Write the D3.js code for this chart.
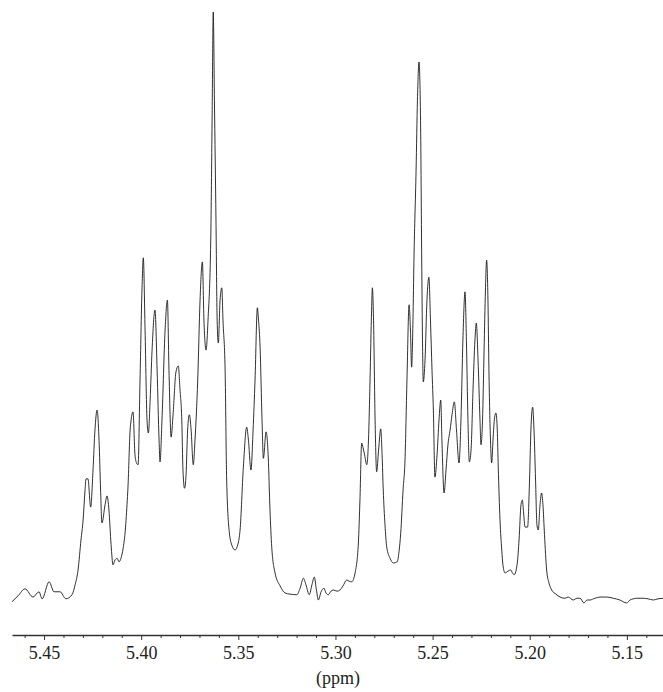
<!DOCTYPE html>
<html>
<head>
<meta charset="utf-8">
<script src="https://cdn.jsdelivr.net/npm/d3@7"></script>
<style>
  html, body { margin: 0; padding: 0; background: #fff; }
  svg { display: block; }
  svg text { font-family: "Liberation Serif", "Times New Roman", Times, serif; }
</style>
</head>
<body>
<svg id="chart" width="663" height="692"></svg>
<script>
// Chemical shift (ppm) of traced spectrum points
const ppm = [
  5.4665, 5.4634, 5.4598, 5.4557, 5.4526, 5.4510, 5.4474, 5.4449, 5.4418, 5.4387,
  5.4356, 5.4340, 5.4325, 5.4310, 5.4299, 5.4289, 5.4284, 5.4274, 5.4260, 5.4248,
  5.4238, 5.4227, 5.4217, 5.4209, 5.4202, 5.4186, 5.4176, 5.4166, 5.4155, 5.4145,
  5.4135, 5.4124, 5.4114, 5.4104, 5.4093, 5.4083, 5.4073, 5.4068, 5.4057, 5.4052,
  5.4042, 5.4032, 5.4024, 5.4016, 5.4006, 5.3996, 5.3989, 5.3980, 5.3970, 5.3963,
  5.3954, 5.3944, 5.3929, 5.3918, 5.3908, 5.3903, 5.3893, 5.3877, 5.3865, 5.3857,
  5.3846, 5.3836, 5.3821, 5.3809, 5.3800, 5.3791, 5.3785, 5.3777, 5.3769, 5.3761,
  5.3752, 5.3743, 5.3732, 5.3723, 5.3709, 5.3697, 5.3685, 5.3677, 5.3666, 5.3656,
  5.3642, 5.3635, 5.3629, 5.3623, 5.3615, 5.3609, 5.3603, 5.3594, 5.3585, 5.3579,
  5.3568, 5.3560, 5.3546, 5.3532, 5.3517, 5.3502, 5.3491, 5.3474, 5.3457, 5.3448,
  5.3435, 5.3424, 5.3414, 5.3402, 5.3396, 5.3388, 5.3378, 5.3371, 5.3357, 5.3346,
  5.3337, 5.3328, 5.3311, 5.3285, 5.3260, 5.3234, 5.3199, 5.3182, 5.3165, 5.3152,
  5.3135, 5.3121, 5.3109, 5.3098, 5.3088, 5.3074, 5.3059, 5.3049, 5.3037, 5.3023,
  5.3011, 5.2992, 5.2977, 5.2961, 5.2942, 5.2930, 5.2916, 5.2899, 5.2882, 5.2874,
  5.2865, 5.2858, 5.2850, 5.2839, 5.2830, 5.2822, 5.2814, 5.2810, 5.2804, 5.2796,
  5.2788, 5.2778, 5.2767, 5.2760, 5.2754, 5.2745, 5.2736, 5.2719, 5.2702, 5.2682,
  5.2673, 5.2664, 5.2652, 5.2642, 5.2632, 5.2621, 5.2614, 5.2608, 5.2601, 5.2596,
  5.2585, 5.2578, 5.2570, 5.2562, 5.2556, 5.2552, 5.2548, 5.2539, 5.2529, 5.2519,
  5.2511, 5.2503, 5.2496, 5.2488, 5.2477, 5.2467, 5.2458, 5.2452, 5.2441, 5.2431,
  5.2421, 5.2410, 5.2400, 5.2388, 5.2377, 5.2364, 5.2354, 5.2344, 5.2333, 5.2326,
  5.2318, 5.2311, 5.2302, 5.2292, 5.2282, 5.2275, 5.2266, 5.2256, 5.2251, 5.2243,
  5.2235, 5.2228, 5.2222, 5.2215, 5.2210, 5.2202, 5.2196, 5.2189, 5.2181, 5.2174,
  5.2167, 5.2162, 5.2153, 5.2144, 5.2138, 5.2127, 5.2112, 5.2098, 5.2089, 5.2080,
  5.2064, 5.2055, 5.2045, 5.2038, 5.2032, 5.2024, 5.2011, 5.2001, 5.1994, 5.1985,
  5.1978, 5.1970, 5.1963, 5.1956, 5.1947, 5.1939, 5.1932, 5.1924, 5.1913, 5.1901,
  5.1887, 5.1865, 5.1844, 5.1819, 5.1802, 5.1776, 5.1757, 5.1741, 5.1721, 5.1705,
  5.1690, 5.1664, 5.1638, 5.1604, 5.1570, 5.1536, 5.1501, 5.1484, 5.1467, 5.1443,
  5.1416, 5.1391, 5.1364, 5.1340, 5.1314
];

// Relative intensity at each point (tallest peak = 100)
const intensity = [
  -0.3, 0.7, 1.9, 0.5, 1.4, 0.2, 3.1, 1.4, 1.4, 0.2,
  0.9, 2.6, 5.1, 10.2, 13.6, 18.7, 20.6, 20.6, 15.8, 22.1,
  28.9, 32.3, 27.2, 18.7, 13.1, 16.2, 17.7, 15.3, 9.4, 6.0,
  6.8, 7.1, 6.5, 7.1, 8.8, 11.4, 16.2, 19.2, 28.9, 30.6,
  32.0, 24.7, 23.3, 23.0, 37.4, 52.7, 58.2, 45.9, 30.6, 28.4,
  34.0, 42.5, 49.3, 39.1, 27.2, 23.5, 30.6, 45.9, 51.0, 39.1,
  27.7, 31.5, 38.8, 39.8, 35.7, 30.6, 22.1, 19.0, 21.3, 28.9,
  31.5, 28.9, 23.0, 27.2, 37.4, 51.0, 57.5, 47.6, 42.5, 47.6,
  61.2, 81.6, 100.0, 85.0, 64.6, 47.6, 43.7, 51.0, 53.1, 47.6,
  39.1, 20.4, 11.4, 9.2, 8.5, 9.5, 11.9, 22.6, 29.4, 27.2,
  22.1, 28.9, 37.4, 49.7, 47.6, 43.0, 30.6, 24.1, 28.6, 24.3,
  15.3, 9.0, 4.6, 2.4, 1.2, 1.0, 0.9, 2.0, 3.7, 2.6,
  0.9, 2.6, 3.9, 1.7, 0.0, 1.4, 2.0, 1.2, 0.9, 1.5,
  1.7, 1.5, 1.7, 2.4, 3.4, 3.2, 3.1, 4.6, 9.7, 17.0,
  26.7, 25.9, 24.7, 23.0, 27.2, 37.4, 49.3, 53.1, 47.6, 30.6,
  21.8, 25.5, 29.1, 24.7, 18.7, 12.8, 9.0, 7.1, 6.3, 6.5,
  8.2, 11.4, 18.7, 23.8, 37.4, 50.2, 45.9, 39.6, 47.6, 57.8,
  73.1, 85.0, 91.5, 81.6, 57.8, 44.2, 37.1, 40.8, 51.0, 54.9,
  47.6, 39.1, 32.3, 20.9, 24.7, 30.6, 34.0, 27.2, 18.2, 22.1,
  26.4, 28.9, 31.5, 33.7, 28.9, 23.3, 30.6, 44.2, 52.4, 44.2,
  30.6, 23.5, 25.5, 35.7, 44.2, 47.1, 40.8, 30.6, 26.4, 30.6,
  42.5, 52.7, 57.8, 51.0, 39.1, 27.2, 23.3, 27.2, 31.0, 31.8,
  28.9, 22.6, 13.6, 8.5, 6.0, 4.6, 4.9, 5.1, 4.6, 4.3,
  6.3, 10.2, 16.2, 17.0, 15.0, 12.4, 12.4, 20.4, 28.9, 32.8,
  28.9, 20.4, 12.8, 11.9, 16.2, 18.2, 16.2, 11.1, 5.1, 2.9,
  1.7, 1.0, 0.5, 0.3, 0.5, 0.0, 0.3, 0.3, -0.5, 0.0,
  0.0, 0.3, 0.5, 0.5, 0.3, 0.0, -0.5, 0.0, 0.2, 0.3,
  0.3, 0.2, 0.0, 0.2, 0.3
];

const majorTicks = [5.45, 5.40, 5.35, 5.30, 5.25, 5.20, 5.15];
const minorTicks = [5.46, 5.44, 5.43, 5.42, 5.41, 5.39, 5.38, 5.37, 5.36,
  5.34, 5.33, 5.32, 5.31, 5.29, 5.28, 5.27, 5.26, 5.24, 5.23, 5.22, 5.21,
  5.19, 5.18, 5.17, 5.16, 5.14];
const xDomain = [5.4665, 5.1314];
const axisTitle = "(ppm)";

const svg = d3.select("#chart");
const x = d3.scaleLinear().domain(xDomain).range([12, 663]);
const y = d3.scaleLinear().domain([0, 100]).range([600, 12]);

const pts = ppm.map((p, i) => [p, intensity[i]]);

svg.append("path")
  .datum(pts)
  .attr("fill", "none")
  .attr("stroke", "#1a1a1a")
  .attr("stroke-width", 0.9)
  .attr("stroke-linejoin", "round")
  .attr("d", d3.line().curve(d3.curveMonotoneX).x(d => x(d[0])).y(d => y(d[1])));

const axisY = 635;

// minor ticks
const minorG = svg.append("g")
  .attr("transform", `translate(0,${axisY})`)
  .call(d3.axisBottom(x).tickValues(minorTicks).tickSize(3).tickSizeOuter(0).tickFormat(""));
minorG.select(".domain").remove();
minorG.selectAll(".tick line").attr("stroke", "#333").attr("stroke-width", 1);

// major ticks + labels
const majorG = svg.append("g")
  .attr("transform", `translate(0,${axisY})`)
  .call(d3.axisBottom(x).tickValues(majorTicks).tickSize(5).tickSizeOuter(0).tickPadding(6)
    .tickFormat(d3.format(".2f")));
majorG.select(".domain").attr("stroke", "#333").attr("stroke-width", 1.6);
majorG.selectAll(".tick line").attr("stroke", "#333").attr("stroke-width", 1);
majorG.selectAll(".tick text")
  .style("font-family", "'Liberation Serif', 'Times New Roman', serif")
  .style("font-size", "18px")
  .attr("fill", "#222");

svg.append("text")
  .attr("x", 338)
  .attr("y", 684)
  .attr("text-anchor", "middle")
  .style("font-family", "'Liberation Serif', 'Times New Roman', serif")
  .style("font-size", "18px")
  .attr("fill", "#222")
  .text(axisTitle);
</script>
</body>
</html>
